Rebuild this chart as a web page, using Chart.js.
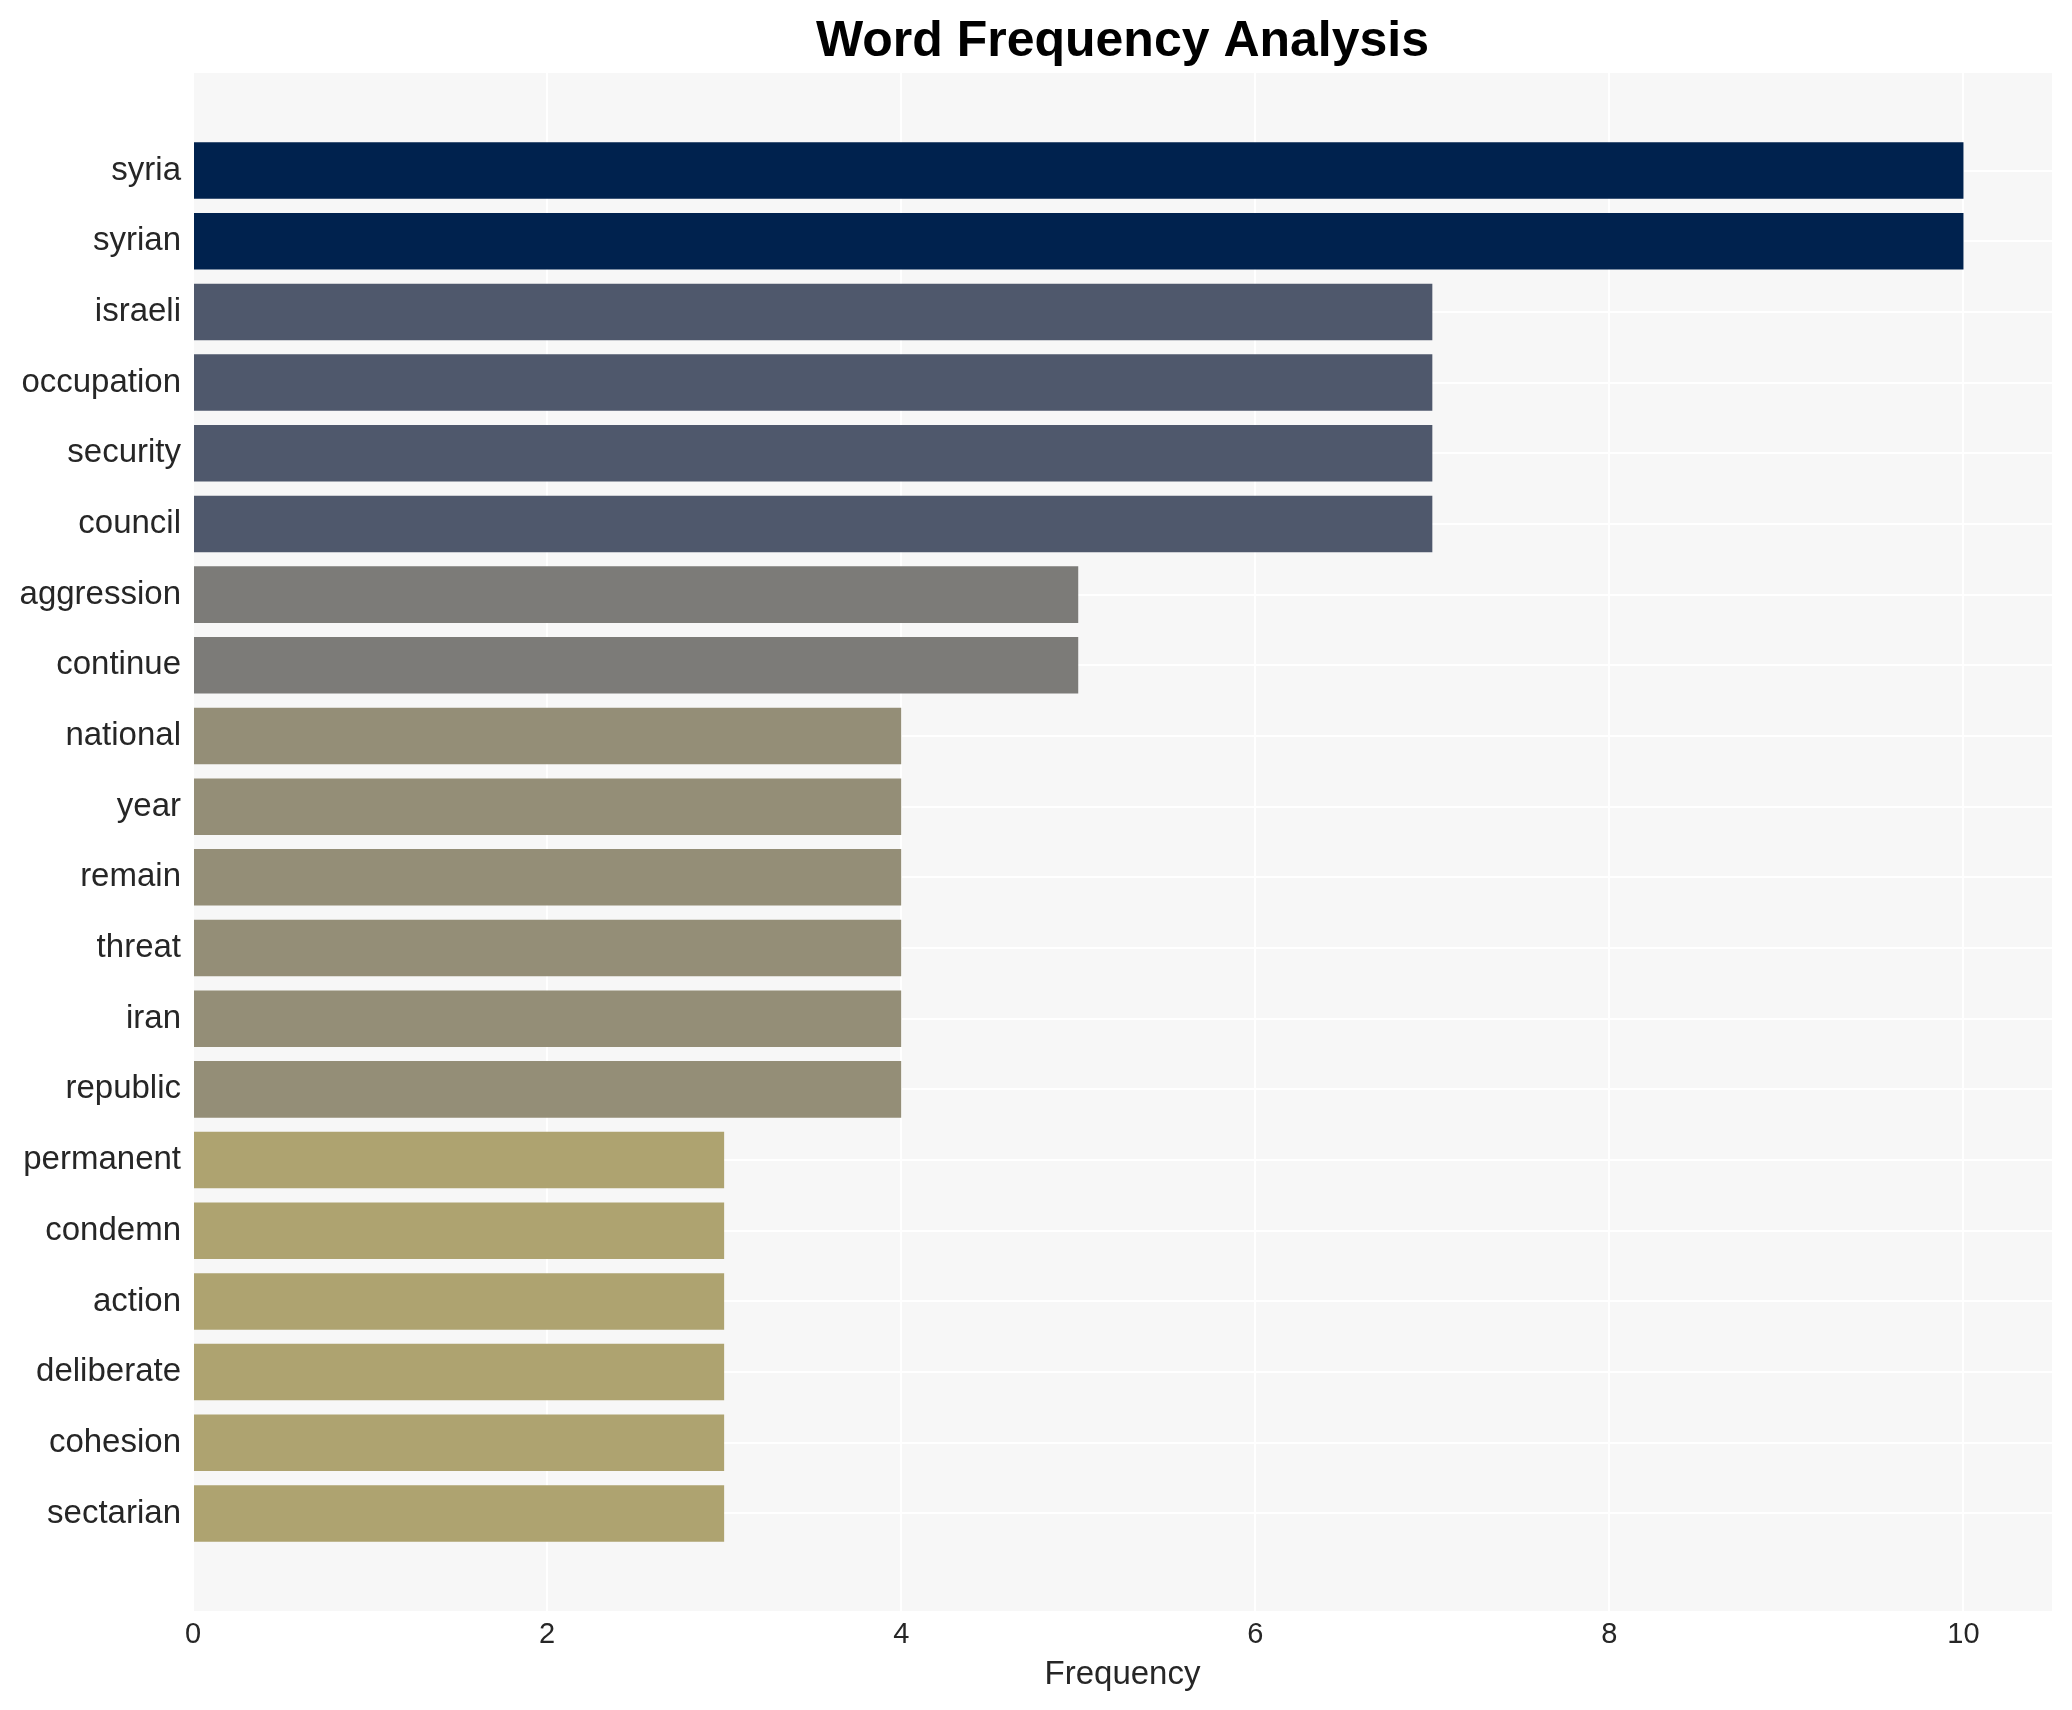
<!DOCTYPE html>
<html>
<head>
<meta charset="utf-8">
<script src="https://cdn.jsdelivr.net/npm/chart.js@4.4.1/dist/chart.umd.min.js"></script>
<style>
  html, body { margin: 0; padding: 0; background: #ffffff; }
  #wrap { width: 2072px; height: 1710px; }
</style>
</head>
<body>
<div id="wrap"><canvas id="freqChart"></canvas></div>
<script>
// word counts, top to bottom
const words = ['syria', 'syrian', 'israeli', 'occupation', 'security', 'council',
    'aggression', 'continue', 'national', 'year', 'remain', 'threat', 'iran',
    'republic', 'permanent', 'condemn', 'action', 'deliberate', 'cohesion', 'sectarian'];
const counts = [10, 10, 7, 7, 7, 7, 5, 5, 4, 4, 4, 4, 4, 4, 3, 3, 3, 3, 3, 3];
const xTicks = [0, 2, 4, 6, 8, 10];
const titleText = 'Word Frequency Analysis';

const FONT = "'Liberation Sans', Arial, sans-serif";

function colorFor(v) {
    if (v >= 10) return '#00224e';
    if (v >= 7) return '#4f586c';
    if (v >= 5) return '#7c7b78';
    if (v >= 4) return '#948e77';
    return '#aea370';
}

// grey panel behind the bars + title centred over the plot area
const plotDecor = {
    id: 'plotDecor',
    beforeDraw(chart) {
        const a = chart.chartArea;
        const c = chart.ctx;
        c.save();
        c.fillStyle = '#f7f7f7';
        c.fillRect(a.left, a.top, a.right - a.left, a.bottom - a.top);
        c.restore();
    },
    afterDraw(chart) {
        const a = chart.chartArea;
        const c = chart.ctx;
        c.save();
        c.fillStyle = '#000000';
        c.font = 'bold 50px ' + FONT;
        c.textAlign = 'center';
        c.textBaseline = 'middle';
        c.fillText(titleText, (a.left + a.right) / 2, 42);
        c.restore();
    }
};

document.addEventListener('DOMContentLoaded', function() {
    const ctx = document.getElementById('freqChart');

    new Chart(ctx, {
        type: 'bar',
        data: {
            datasets: [{
                data: counts.map((c, i) => ({ x: c, y: i })),
                backgroundColor: counts.map(colorFor),
                borderWidth: 0,
                barPercentage: 0.8,
                categoryPercentage: 1.0
            }]
        },
        options: {
            indexAxis: 'y',
            responsive: true,
            maintainAspectRatio: false,
            animation: false,
            layout: {
                padding: { top: 73, right: 20, bottom: 15, left: 0 }
            },
            plugins: {
                legend: { display: false },
                tooltip: { enabled: false },
                title: { display: false }
            },
            scales: {
                x: {
                    type: 'linear',
                    min: 0,
                    max: 10.5,
                    afterBuildTicks: s => { s.ticks = xTicks.map(v => ({ value: v })); },
                    grid: { color: '#ffffff', lineWidth: 2, drawTicks: false },
                    border: { display: false },
                    ticks: {
                        color: '#262626',
                        padding: 9,
                        font: { family: FONT, size: 29, lineHeight: 1.0 }
                    },
                    title: {
                        display: true,
                        text: 'Frequency',
                        color: '#262626',
                        font: { family: FONT, size: 33, lineHeight: 1.0 },
                        padding: { top: 0, bottom: 4 }
                    }
                },
                y: {
                    type: 'linear',
                    reverse: true,
                    offset: false,
                    min: -1.38,
                    max: 20.38,
                    afterBuildTicks: s => { s.ticks = words.map((w, i) => ({ value: i })); },
                    afterFit: s => { s.width = 193; },
                    grid: { color: '#ffffff', lineWidth: 2, drawTicks: false, offset: false },
                    border: { display: false },
                    ticks: {
                        color: '#262626',
                        padding: 12,
                        font: { family: FONT, size: 33 },
                        callback: v => words[v]
                    }
                }
            }
        },
        plugins: [plotDecor]
    });
});
</script>
</body>
</html>
